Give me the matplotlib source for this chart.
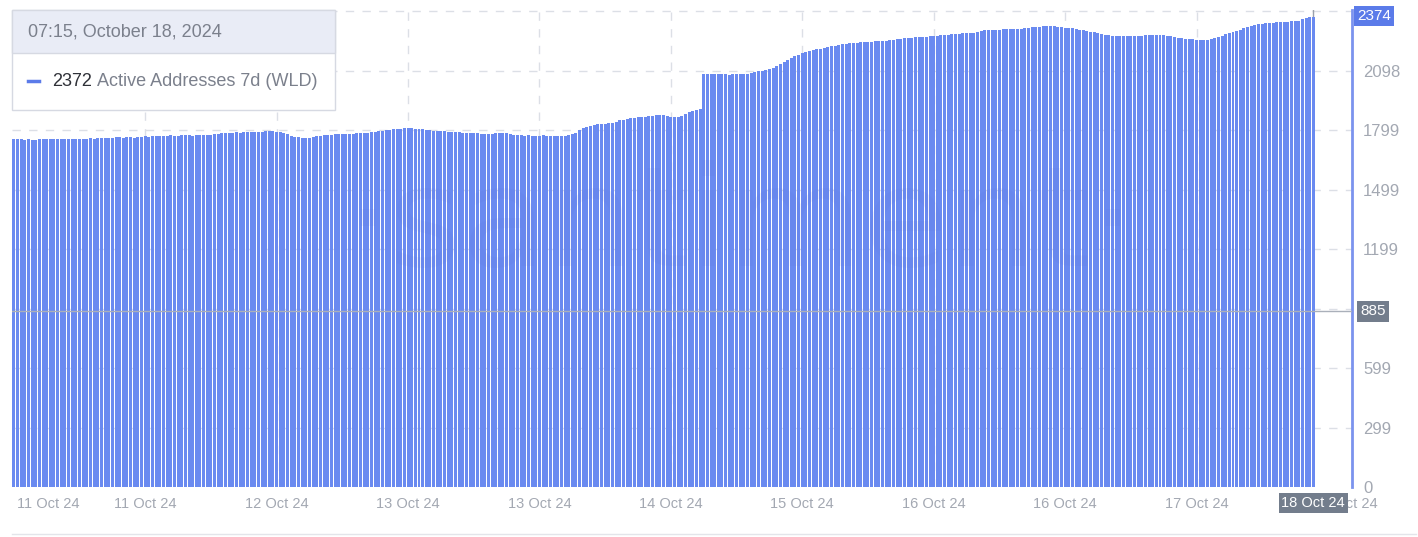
import numpy as np
import matplotlib
matplotlib.use("Agg")
import matplotlib.pyplot as plt
from matplotlib.patches import Rectangle

# Active Addresses 7d (WLD), one bar every 30 minutes, last bar = 07:15, October 18, 2024
active_addresses = [
    1756, 1754, 1753, 1752, 1753, 1751, 1752, 1753, 1754, 1753, 1754, 1755, 1754, 1753, 1755, 1756, 1755, 1754, 1756, 1757,
    1756, 1758, 1757, 1759, 1760, 1761, 1759, 1762, 1763, 1764, 1762, 1767, 1763, 1760, 1764, 1766, 1768, 1767, 1769, 1770,
    1771, 1770, 1772, 1773, 1772, 1771, 1773, 1774, 1773, 1772, 1774, 1775, 1776, 1775, 1777, 1778, 1782, 1784, 1786, 1785,
    1787, 1788, 1786, 1789, 1790, 1788, 1791, 1792, 1790, 1793, 1794, 1796, 1792, 1788, 1783, 1778, 1772, 1767, 1763, 1760,
    1758, 1761, 1765, 1769, 1772, 1775, 1777, 1776, 1778, 1779, 1780, 1781, 1780, 1782, 1784, 1783, 1785, 1786, 1788, 1790,
    1794, 1797, 1800, 1802, 1804, 1806, 1807, 1809, 1810, 1808, 1806, 1804, 1803, 1801, 1799, 1797, 1795, 1794, 1793, 1791,
    1790, 1789, 1788, 1787, 1786, 1785, 1784, 1783, 1782, 1781, 1780, 1782, 1784, 1785, 1786, 1783, 1779, 1776, 1774, 1773,
    1772, 1773, 1772, 1771, 1772, 1773, 1772, 1771, 1770, 1771, 1772, 1771, 1773, 1778, 1787, 1798, 1808, 1816, 1822, 1827,
    1829, 1831, 1832, 1834, 1836, 1842, 1848, 1852, 1855, 1858, 1862, 1864, 1866, 1868, 1870, 1872, 1874, 1876, 1878, 1872,
    1866, 1864, 1866, 1872, 1880, 1890, 1896, 1901, 1905, 2080, 2082, 2081, 2083, 2084, 2082, 2080, 2079, 2080, 2081, 2082,
    2083, 2084, 2086, 2090, 2095, 2099, 2103, 2106, 2115, 2125, 2135, 2145, 2155, 2163, 2172, 2180, 2187, 2193, 2199, 2203,
    2206, 2210, 2214, 2218, 2222, 2226, 2229, 2232, 2235, 2238, 2240, 2241, 2242, 2244, 2245, 2246, 2247, 2248, 2249, 2251,
    2253, 2256, 2258, 2260, 2262, 2264, 2265, 2267, 2268, 2270, 2271, 2273, 2275, 2276, 2278, 2279, 2281, 2282, 2284, 2285,
    2287, 2288, 2289, 2291, 2296, 2300, 2302, 2303, 2304, 2305, 2306, 2307, 2308, 2309, 2310, 2309, 2311, 2313, 2315, 2317,
    2318, 2320, 2322, 2324, 2326, 2324, 2321, 2318, 2316, 2314, 2312, 2309, 2306, 2302, 2299, 2296, 2292, 2288, 2284, 2281,
    2278, 2276, 2274, 2273, 2274, 2275, 2274, 2273, 2272, 2275, 2278, 2279, 2280, 2279, 2278, 2277, 2276, 2274, 2270, 2266,
    2263, 2261, 2259, 2257, 2256, 2255, 2255, 2256, 2258, 2263, 2270, 2276, 2282, 2288, 2294, 2300, 2306, 2313, 2319, 2324,
    2328, 2332, 2335, 2337, 2339, 2341, 2343, 2344, 2345, 2347, 2348, 2349, 2351, 2358, 2365, 2369, 2372,
]

# x ticks, in hours relative to the last bar
tick_hours = [-173.3, -160, -142, -124, -106, -88, -70, -52, -34, -16, 4.4]
tick_labels = ["11 Oct 24", "11 Oct 24", "12 Oct 24", "13 Oct 24", "13 Oct 24", "14 Oct 24",
               "15 Oct 24", "16 Oct 24", "16 Oct 24", "17 Oct 24", "18 Oct 24"]
y_ticks = [0, 299, 599, 899, 1199, 1499, 1799, 2098, 2398]
y_tick_labels = ["0", "299", "599", "", "1199", "1499", "1799", "2098", ""]

last_value = 2374
cursor_value = 885

plt.rcParams["font.family"] = ["Liberation Sans", "DejaVu Sans"]

W, H = 1418, 537
fig = plt.figure(figsize=(W / 100, H / 100), dpi=100)
ax = fig.add_axes([12 / W, 1 - 487 / H, 1340 / W, 477 / H])

n = len(active_addresses)
hours = (np.arange(n) - (n - 1)) * 0.5
bar_blue = "#6a8af0"
ax.bar(hours, active_addresses, width=0.41, color=bar_blue, linewidth=0, zorder=2)

ax.set_xlim(-178.25, 5.3)
ax.set_ylim(0, 2405)

grid_col = "#dcdfe6"
for yv in y_ticks[1:]:
    ax.axhline(yv, color=grid_col, lw=1, ls=(0, (6, 6)), zorder=1)
for xv in tick_hours[1:-1]:
    ax.axvline(xv, color=grid_col, lw=1, ls=(0, (6, 6)), zorder=1)

for s in ["left", "top", "bottom"]:
    ax.spines[s].set_visible(False)
ax.spines["right"].set_color("#7b93ee")
ax.spines["right"].set_linewidth(2)

ax.yaxis.tick_right()
ax.set_yticks(y_ticks)
ax.set_yticklabels(y_tick_labels)
ax.set_xticks(tick_hours)
ax.set_xticklabels(tick_labels)
ax.tick_params(axis="y", length=0, pad=8, labelsize=12, labelcolor="#a3a8b2")
ax.tick_params(axis="x", length=0, pad=7, labelsize=10.5, labelcolor="#a3a8b2")

# crosshair
ax.axhline(cursor_value, color="#aab0ba", lw=1, zorder=3)
ax.axvline(0, color="#9aa0aa", lw=1, zorder=1)

ytr = ax.get_yaxis_transform()
xtr = ax.get_xaxis_transform()
ax.text(1.004, last_value, str(last_value), transform=ytr, ha="left", va="center",
        fontsize=11, color="white", zorder=5,
        bbox=dict(boxstyle="square,pad=0.2", fc="#5b7be9", ec="none"))
ax.text(1.006, cursor_value, str(cursor_value), transform=ytr, ha="left", va="center",
        fontsize=11, color="white", zorder=5,
        bbox=dict(boxstyle="square,pad=0.2", fc="#737d8c", ec="none"))
ax.text(0, -0.034, "18 Oct 24", transform=xtr, ha="center", va="center",
        fontsize=10.5, color="white", zorder=5, clip_on=False,
        bbox=dict(boxstyle="square,pad=0.2", fc="#737d8c", ec="none"))

# watermark
fig.text(740 / W, 1 - 228 / H, "·santiment·", ha="center", va="center",
         fontsize=100, color="#5a6fd6", alpha=0.08, family="DejaVu Sans")

# tooltip
box_l, box_t, box_w, box_h = 12, 10, 323, 100
fig.add_artist(Rectangle((box_l / W, 1 - (box_t + box_h) / H), box_w / W, box_h / H,
                         transform=fig.transFigure, fc="white", ec="#d6d9e2", lw=1))
fig.add_artist(Rectangle((box_l / W, 1 - 53 / H), box_w / W, 43 / H,
                         transform=fig.transFigure, fc="#e9ecf6", ec="#d6d9e2", lw=1))
fig.text(28 / W, 1 - 32 / H, "07:15, October 18, 2024", ha="left", va="center",
         fontsize=13, color="#7b808c")
fig.add_artist(plt.Line2D([28 / W, 39 / W], [1 - 81 / H, 1 - 81 / H],
                          transform=fig.transFigure, color="#5b7be9", lw=2.5))
fig.text(52 / W, 1 - 81 / H, "2372", ha="left", va="center", fontsize=13, color="#2f3138")
fig.text(97 / W, 1 - 81 / H, "Active Addresses 7d (WLD)", ha="left", va="center",
         fontsize=13, color="#7b808c")

# bottom separator
fig.add_artist(plt.Line2D([12 / W, 1 - 2 / W], [1 - 534 / H, 1 - 534 / H],
                          transform=fig.transFigure, color="#e3e5ea", lw=1))

fig.savefig("out.png", dpi=100, facecolor="white")
